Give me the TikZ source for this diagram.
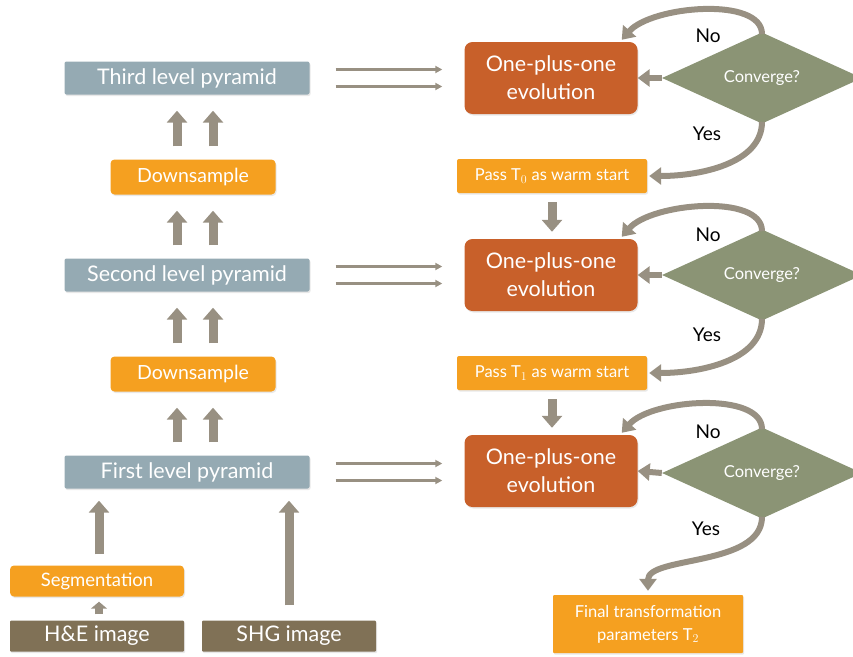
\documentclass[tikz,border=0pt]{standalone}
\usepackage{fontspec}
\setmainfont{Lato}
\usetikzlibrary{arrows.meta,shapes.geometric,shadows}
\definecolor{pyrc}{RGB}{149,170,179}
\definecolor{orc}{RGB}{245,160,32}
\definecolor{evoc}{RGB}{200,96,42}
\definecolor{diac}{RGB}{139,148,117}
\definecolor{brc}{RGB}{128,113,86}
\definecolor{arc}{RGB}{152,144,130}
\tikzset{
  basebox/.style={rectangle, rounded corners=2pt, text=white, inner sep=0pt,
    drop shadow={opacity=0.18, shadow xshift=1pt, shadow yshift=-1.5pt}},
  pyr/.style={basebox, fill=pyrc, minimum width=245pt, minimum height=33pt, font=\fontsize{21.5}{24}\selectfont},
  down/.style={basebox, fill=orc, minimum width=165pt, minimum height=35pt, rounded corners=4pt, font=\fontsize{19.5}{22}\selectfont},
  passbox/.style={basebox, fill=orc, minimum width=190pt, minimum height=34pt, font=\fontsize{16.5}{19}\selectfont},
  evo/.style={basebox, fill=evoc, minimum width=173pt, minimum height=72pt, rounded corners=8pt, align=center, font=\fontsize{21.5}{28}\selectfont},
  dia/.style={diamond, fill=diac, text=white, minimum width=200pt, minimum height=78pt, inner sep=0pt, font=\fontsize{16.5}{19}\selectfont},
  img/.style={basebox, fill=brc, minimum width=174pt, minimum height=31pt, rounded corners=1pt, font=\fontsize{21.5}{24}\selectfont},
  seg/.style={basebox, fill=orc, minimum width=174pt, minimum height=31pt, rounded corners=4pt, font=\fontsize{18.5}{21}\selectfont},
  finalbox/.style={basebox, fill=orc, minimum width=190pt, minimum height=58pt, rounded corners=1pt, align=center, font=\fontsize{16.5}{23}\selectfont},
  lab/.style={text=black, font=\fontsize{19}{22}\selectfont},
  blk/.style={draw=arc, line width=9pt, -{Triangle[width=20pt,length=12pt]}},
  smallblk/.style={draw=arc, line width=8pt, -{Triangle[width=16pt,length=7pt]}},
  thin/.style={draw=arc, line width=2.5pt, -{Triangle[width=7pt,length=7pt]}},
  curv/.style={draw=arc, line width=6pt, -{Triangle[width=17pt,length=12pt]}},
}
\begin{document}
\begin{tikzpicture}[x=1pt,y=-1pt]
\useasboundingbox (0,0) rectangle (853,656);

% left column
\node[pyr] (pyr3) at (187,78) {Third level pyramid};
\node[down] (down2) at (193,177) {Downsample};
\node[pyr] (pyr2) at (187,275) {Second level pyramid};
\node[down] (down1) at (193,374) {Downsample};
\node[pyr] (pyr1) at (187,472) {First level pyramid};
\node[seg] (seg) at (97,581) {Segmentation};
\node[img] (he) at (97,636) {H\&E image};
\node[img] (shg) at (289,636) {SHG image};

% right column
\node[evo] (evo3) at (551,78) {One-plus-one\\evolution};
\node[evo] (evo2) at (551,275) {One-plus-one\\evolution};
\node[evo] (evo1) at (551,471) {One-plus-one\\evolution};
\node[dia] (dia3) at (762,78) {Converge?};
\node[dia] (dia2) at (762,275) {Converge?};
\node[dia] (dia1) at (762,473) {Converge?};
\node[passbox] (pass0) at (552,176) {Pass $\mathrm{T}_0$ as warm start};
\node[passbox] (pass1) at (552,373) {Pass $\mathrm{T}_1$ as warm start};
\node[finalbox] (final) at (648,624) {Final transformation\\parameters $\mathrm{T}_2$};

% labels
\node[lab] (no3) at (708,36) {No};
\node[lab] (yes3) at (707,134) {Yes};
\node[lab] (no2) at (708,235) {No};
\node[lab] (yes2) at (707,335) {Yes};
\node[lab] (no1) at (708,432) {No};
\node[lab] (yes1) at (706,529) {Yes};

% up arrows left column
\foreach \a/\b in {down2/pyr3, pyr2/down2, down1/pyr2, pyr1/down1}{
  \draw[blk, shorten <=13pt, shorten >=16pt] ([xshift=-16pt]down2.north |- \a.north) -- ([xshift=-16pt]down2.north |- \b.south);
  \draw[blk, shorten <=13pt, shorten >=16pt] ([xshift=20pt]down2.north |- \a.north) -- ([xshift=20pt]down2.north |- \b.south);
}
\draw[blk, shorten <=11pt, shorten >=12pt] ([xshift=2pt]seg.north) -- ([xshift=2pt]seg.north |- pyr1.south);
\draw[blk, shorten <=15pt, shorten >=12pt] (shg.north) -- (shg.north |- pyr1.south);
\draw[smallblk, shorten <=6pt, shorten >=5pt] ([xshift=2pt]he.north) -- ([xshift=2pt]seg.south);

% double arrows
\foreach \p/\e in {pyr3/evo3, pyr2/evo2, pyr1/evo1}{
  \draw[thin, shorten <=26pt, shorten >=22pt] ([yshift=8.5pt]\p.east) -- ([yshift=8.5pt]\p.east -| \e.west);
  \draw[thin, shorten <=26pt, shorten >=22pt] ([yshift=-8.5pt]\p.east) -- ([yshift=-8.5pt]\p.east -| \e.west);
}

% down arrows from pass boxes
\draw[blk, shorten <=9pt, shorten >=7pt] (pass0.south) -- (pass0.south |- evo2.north);
\draw[blk, shorten <=9pt, shorten >=7pt] (pass1.south) -- (pass1.south |- evo1.north);

% loops
\foreach \d/\e in {dia3/evo3, dia2/evo2, dia1/evo1}{
  \draw[curv] ([yshift=-2pt]\d.north) .. controls +(0,-38) and +(30,-34) .. ([xshift=-16pt,yshift=2pt]\e.north east);
  \draw[curv] (\d.west) -- (\e.east);
}
\draw[curv] ([yshift=2pt]dia3.south) .. controls +(0,42) and +(50,0) .. ([xshift=2pt]pass0.east);
\draw[curv] ([yshift=2pt]dia2.south) .. controls +(0,42) and +(50,0) .. ([xshift=2pt]pass1.east);
\draw[curv] ([yshift=2pt]dia1.south) .. controls +(0,50) and +(0,-35) .. ([yshift=4pt]final.north);
\end{tikzpicture}
\end{document}
